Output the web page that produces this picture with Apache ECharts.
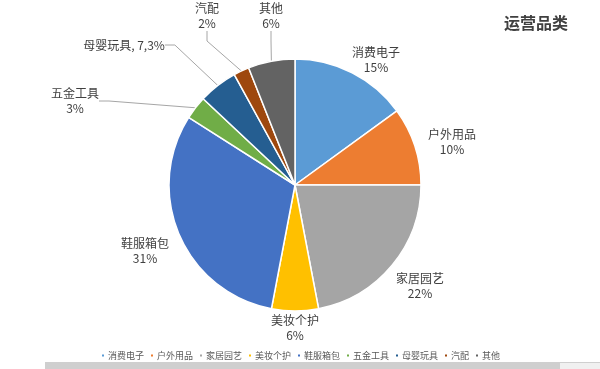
<!DOCTYPE html>
<html>
<head>
<meta charset="utf-8">
<script src="https://cdn.jsdelivr.net/npm/echarts@6/dist/echarts.min.js"></script>
<style>
html,body{margin:0;padding:0;background:#fff;}
#chart{width:600px;height:369px;}
</style>
</head>
<body>
<div id="chart"></div>
<script>
const categories = ['消费电子','户外用品','家居园艺','美妆个护','鞋服箱包','五金工具','母婴玩具','汽配','其他'];
const values = [15, 10, 22, 6, 31, 3, 5, 2, 6];
const percentLabels = ['15%','10%','22%','6%','31%','3%','7,3%','2%','6%'];
const titleText = '运营品类';

const colors = ['#5B9BD5','#ED7D31','#A5A5A5','#FFC000','#4472C4','#70AD47','#255E91','#9E480E','#636363'];
// label placement (layout, not data)
const labelPos = [[376,60],[452,142],[420,286],[295,328],[145,251],[75,101],[124,45],[207,16],[271,16]];
const showLine = [false,false,false,false,false,true,true,true,true];
const inlineLabel = [false,false,false,false,false,false,true,false,false];

const chart = echarts.init(document.getElementById('chart'), null, {renderer:'canvas'});
const font = '"Noto Sans CJK SC", "Microsoft YaHei", sans-serif';

const seriesData = categories.map((c, i) => ({
  name: c,
  value: values[i],
  itemStyle: {color: colors[i]},
  labelLine: {show: showLine[i]}
}));

chart.setOption({
  animation: false,
  backgroundColor: '#ffffff',
  title: {
    text: titleText,
    left: 499, top: 10,
    textStyle: {fontFamily: font, fontSize: 16, fontWeight: 'bold', color: '#404040'}
  },
  legend: {
    top: 346,
    left: 'center',
    icon: 'rect',
    itemWidth: 4, itemHeight: 4, itemGap: 5,
    textStyle: {fontFamily: font, fontSize: 9, color: '#595959', padding: [0,0,0,-2]},
    data: categories
  },
  graphic: [
    {type:'rect', shape:{x:45, y:362, width:555, height:7}, style:{fill:'#cfcfcf'}, z:-1},
    {type:'rect', shape:{x:560, y:363, width:40, height:6}, style:{fill:'#f0f0f0'}, z:-1}
  ],
  series: [{
    type: 'pie',
    center: [295, 185],
    radius: [0, 126],
    startAngle: 90,
    clockwise: true,
    itemStyle: {borderColor: '#ffffff', borderWidth: 1.5},
    label: {
      show: true,
      position: 'outside',
      fontFamily: font,
      fontSize: 12,
      lineHeight: 15,
      color: '#404040',
      formatter: p => inlineLabel[p.dataIndex]
        ? p.name + ', ' + percentLabels[p.dataIndex]
        : p.name + '\n' + percentLabels[p.dataIndex]
    },
    labelLine: {
      length: 10, length2: 10,
      lineStyle: {color: '#a6a6a6', width: 1}
    },
    labelLayout: function (params) {
      const p = labelPos[params.dataIndex];
      return {x: p[0], y: p[1], align: 'center', verticalAlign: 'middle'};
    },
    data: seriesData
  }]
});
</script>
</body>
</html>
